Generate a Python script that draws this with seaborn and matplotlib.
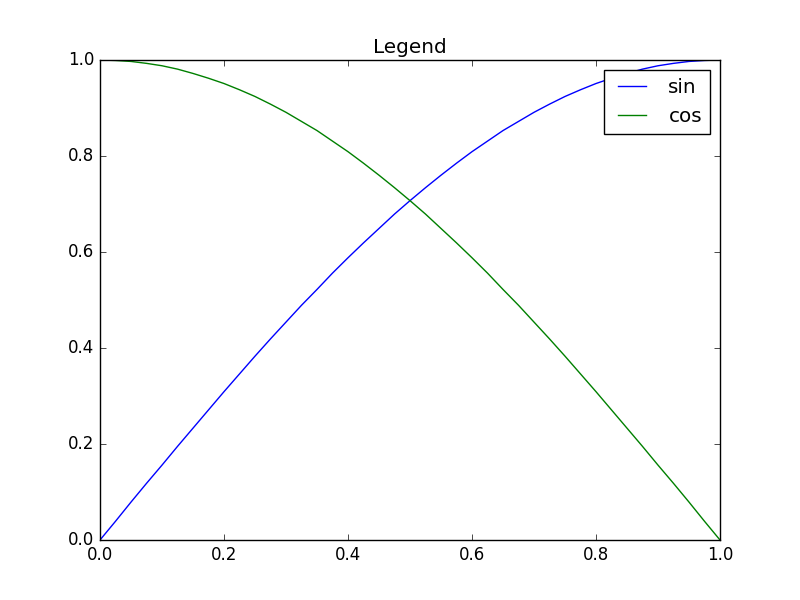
import pandas as pd
import seaborn as sns
import matplotlib
matplotlib.use("Agg")
import matplotlib.pyplot as plt

# values (step 0.025)
x_vals = [0.0, 0.025, 0.05, 0.075, 0.1, 0.125, 0.15, 0.175, 0.2, 0.225,
          0.25, 0.275, 0.3, 0.325, 0.35, 0.375, 0.4, 0.425, 0.45, 0.475,
          0.5, 0.525, 0.55, 0.575, 0.6, 0.625, 0.65, 0.675, 0.7, 0.725,
          0.75, 0.775, 0.8, 0.825, 0.85, 0.875, 0.9, 0.925, 0.95, 0.975, 1.0]
sin_vals = [0.0, 0.039, 0.079, 0.118, 0.156, 0.195, 0.233, 0.271, 0.309, 0.346,
            0.383, 0.419, 0.454, 0.489, 0.522, 0.556, 0.588, 0.619, 0.649, 0.679,
            0.707, 0.734, 0.760, 0.785, 0.809, 0.831, 0.853, 0.872, 0.891, 0.908,
            0.924, 0.938, 0.951, 0.962, 0.972, 0.981, 0.988, 0.993, 0.997, 0.999, 1.0]
cos_vals = sin_vals[::-1]

df = pd.DataFrame({
    "x": x_vals * 2,
    "y": sin_vals + cos_vals,
    "series": ["sin"] * len(x_vals) + ["cos"] * len(x_vals),
})

plt.style.use("classic")
fig, ax = plt.subplots(figsize=(8, 6), dpi=100)
fig.patch.set_facecolor("white")

sns.lineplot(data=df, x="x", y="y", hue="series",
             palette={"sin": "b", "cos": "g"}, ax=ax, linewidth=1)

ax.set_xlim(0, 1)
ax.set_ylim(0, 1)
ax.set_xlabel("")
ax.set_ylabel("")
ax.set_title("Legend")
ax.legend(title=None)

fig.savefig("out.png", dpi=100, facecolor="white")
